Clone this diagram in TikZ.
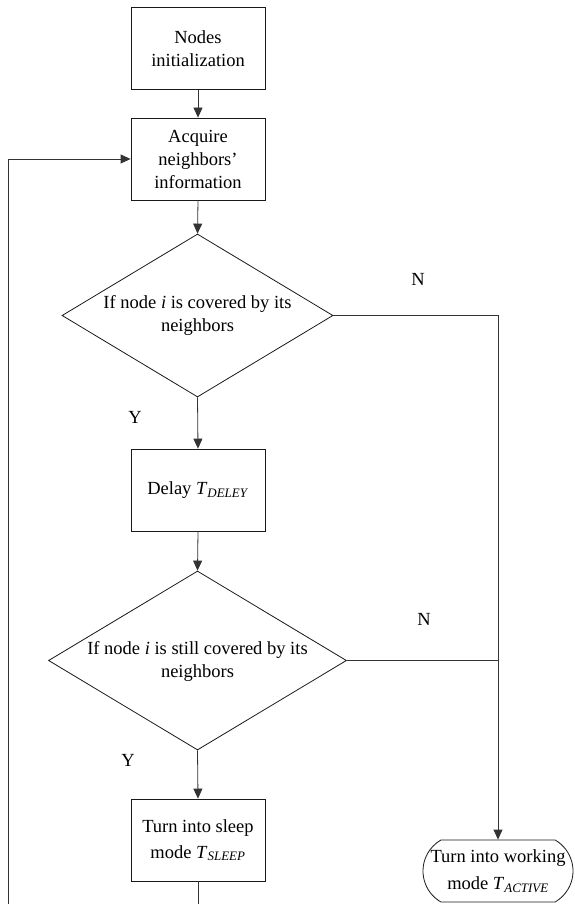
\documentclass[tikz,border=0pt]{standalone}
\usepackage{fontspec}
\setmainfont{Liberation Serif}
\usetikzlibrary{arrows.meta,shapes.geometric,shapes.misc}

\newcommand\flowtxt{\fontsize{18.5}{23}\selectfont}
\newcommand\tsub[1]{\textit{T}\textsubscript{\textit{#1}}}

\tikzset{
  outline/.style={draw=black!90, line width=0.8pt},
  stepbox/.style={outline, rectangle, minimum width=134pt, minimum height=82pt,
    inner sep=0pt, align=center, font=\flowtxt},
  decision/.style={outline, diamond, inner sep=0pt},
  endbox/.style={outline, rounded rectangle, rounded rectangle arc length=120,
    minimum width=150pt, minimum height=62pt, inner sep=0pt, align=center, font=\flowtxt},
  label/.style={font=\flowtxt, inner sep=0pt, align=center},
  link/.style={draw=black!80, line width=0.8pt},
  arrowlink/.style={link, -{Triangle[length=10pt,width=9pt]}}
}

\begin{document}
\begin{tikzpicture}[x=1pt,y=-1pt]
  \useasboundingbox (0,0) rectangle (575,904);

  % process boxes
  \node[stepbox] (init)  at (198,48.5) {Nodes\\initialization};
  \node[stepbox] (acq)   at (198,159)  {Acquire\\neighbors’\\information};
  \node[stepbox] (delay) at (198,490)  {Delay \tsub{DELEY}};
  \node[stepbox] (sleep) at (198,840)  {Turn into sleep\\[3pt]mode \tsub{SLEEP}};

  % decisions
  \node[decision, minimum width=271pt, minimum height=163pt] (d1) at (197.5,315.5) {};
  \node[label] (d1txt) at (d1.center) {If node \textit{i} is covered by its\\neighbors};
  \node[decision, minimum width=298pt, minimum height=179pt] (d2) at (197.5,660.5) {};
  \node[label] (d2txt) at ([yshift=-1pt]d2.center) {If node \textit{i} is still covered by its\\neighbors};

  % terminal
  \node[endbox] (active) at (498,871) {Turn into working\\[4pt]mode \tsub{ACTIVE}};

  % branch labels
  \node[label] (n1) at (418,279) {N};
  \node[label] (y1) at (135,417) {Y};
  \node[label] (n2) at (424,619) {N};
  \node[label] (y2) at (128,760) {Y};

  % helper points
  \coordinate (join) at (active.north |- d2.east);
  \coordinate (loop) at (8,915);

  % main flow
  \draw[arrowlink] (init.south) -- (acq.north);
  \draw[arrowlink] (acq.south) -- (d1.north);
  \draw[arrowlink] (d1.south) -- (delay.north);
  \draw[arrowlink] (delay.south) -- (d2.north);
  \draw[arrowlink] (d2.south) -- (sleep.north);

  % "N" branches to working mode
  \draw[link] (d1.east) -| (join);
  \draw[arrowlink] (d2.east) -| (active.north);

  % return loop from sleep back to acquisition
  \draw[arrowlink] (sleep.south) |- (loop) |- (acq.west);
\end{tikzpicture}
\end{document}
